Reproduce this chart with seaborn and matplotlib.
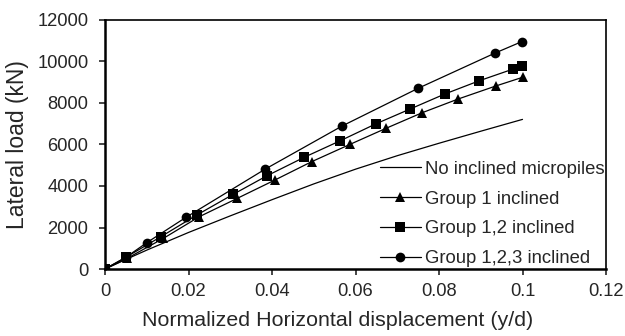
import matplotlib
matplotlib.use("Agg")
import matplotlib.pyplot as plt
import seaborn as sns
import pandas as pd

# Normalized horizontal displacement (y/d) and lateral load (kN) per configuration
x_none = [0, 0.005, 0.01, 0.02, 0.03, 0.04, 0.05, 0.06, 0.07, 0.08, 0.09, 0.1]
y_none = [0, 460, 910, 1760, 2560, 3340, 4100, 4810, 5460, 6060, 6640, 7210]

x_g1 = [0, 0.0053, 0.014, 0.0226, 0.0317, 0.0407, 0.0495, 0.0587, 0.0673, 0.076, 0.0846, 0.0936, 0.1]
y_g1 = [0, 514, 1478, 2522, 3407, 4289, 5172, 6008, 6779, 7534, 8193, 8819, 9237]

x_g12 = [0, 0.005, 0.0134, 0.022, 0.0307, 0.0387, 0.0477, 0.0564, 0.0648, 0.0731, 0.0814, 0.0897, 0.0978, 0.0998]
y_g12 = [0, 564, 1558, 2602, 3598, 4482, 5382, 6185, 6988, 7711, 8434, 9076, 9639, 9798]

x_g123 = [0, 0.005, 0.01, 0.0194, 0.0383, 0.0568, 0.075, 0.0933, 0.0998]
y_g123 = [0, 564, 1268, 2491, 4805, 6892, 8708, 10395, 10954]

labels = ["No inclined micropiles", "Group 1 inclined", "Group 1,2 inclined", "Group 1,2,3 inclined"]
x_ticks = [0, 0.02, 0.04, 0.06, 0.08, 0.1, 0.12]
x_tick_labels = ["0", "0.02", "0.04", "0.06", "0.08", "0.1", "0.12"]
y_ticks = [0, 2000, 4000, 6000, 8000, 10000, 12000]

sns.set_style("ticks")
plt.rcParams["font.family"] = ["Liberation Sans", "DejaVu Sans"]

fig = plt.figure(figsize=(6.25, 3.36), dpi=100)
ax = fig.add_axes([0.168, 0.1994, 0.8016, 0.7411])

series = [
    (x_none, y_none, None),
    (x_g1, y_g1, "^"),
    (x_g12, y_g12, "s"),
    (x_g123, y_g123, "o"),
]
for (xs, ys, mk), lab in zip(series, labels):
    df = pd.DataFrame({"x": xs, "y": ys})
    kw = dict(marker=mk, markersize=7, markeredgewidth=0) if mk else {}
    sns.lineplot(data=df, x="x", y="y", ax=ax, color="black", linewidth=0.9,
                 label=lab, sort=False, estimator=None, **kw)

ax.set_xlim(0, 0.12)
ax.set_ylim(0, 12000)
ax.set_xticks(x_ticks)
ax.set_xticklabels(x_tick_labels)
ax.set_yticks(y_ticks)
ax.tick_params(axis="both", direction="out", length=4.5, width=1.2, labelsize=13.2)
ax.tick_params(axis="x", pad=5.5)
ax.tick_params(axis="y", pad=7.5)
for s in ax.spines.values():
    s.set_linewidth(1.2)
    s.set_color("black")
for s in ("left", "bottom"):
    ax.spines[s].set_linewidth(1.8)

ax.set_xlabel("Normalized Horizontal displacement (y/d)", fontsize=15.4)
ax.xaxis.set_label_coords(0.464, -0.167)
ax.set_ylabel("Lateral load (kN)", fontsize=16.5)
ax.yaxis.set_label_coords(-0.151, 0.5)

leg = ax.legend(loc="lower right", frameon=False, fontsize=13.3,
                handlelength=2.23, handletextpad=0.2, labelspacing=0.69,
                borderaxespad=0.1, borderpad=0.0)

fig.savefig("out.png", dpi=100)
